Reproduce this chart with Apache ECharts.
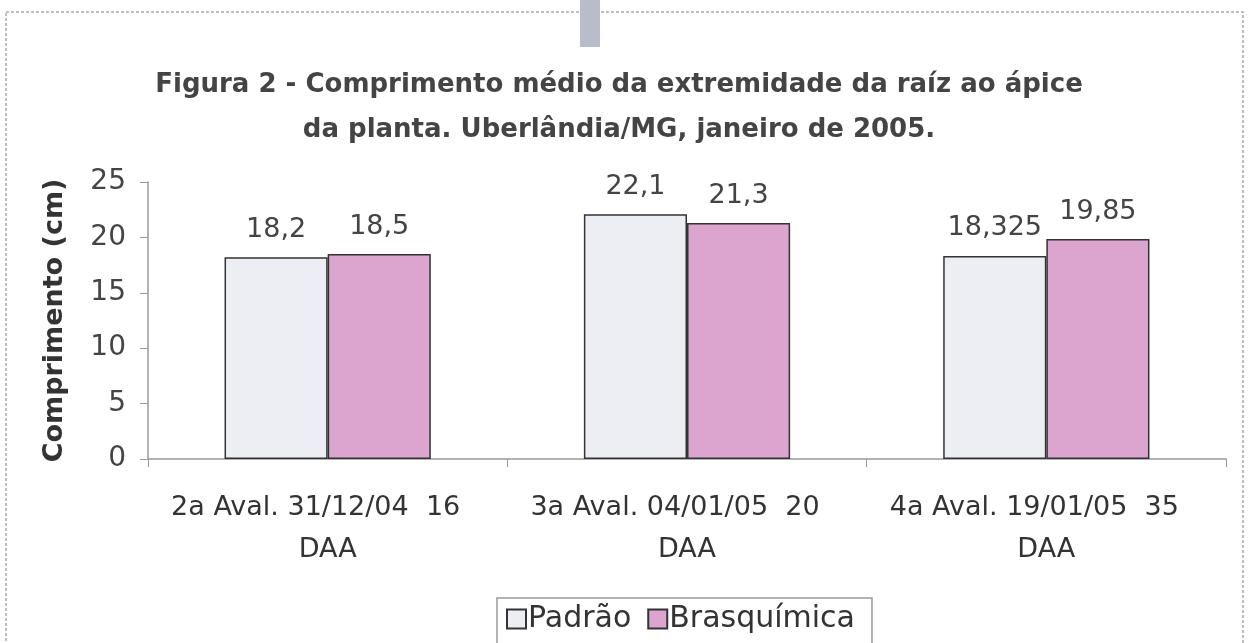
<!DOCTYPE html>
<html><head><meta charset="utf-8">
<script src="https://cdn.jsdelivr.net/npm/echarts@6/dist/echarts.min.js"></script>
<style>html,body{margin:0;padding:0;background:#fff}#c{width:1250px;height:643px}</style>
</head><body><div id="c"></div>
<script>
const categories = ['2a Aval. 31/12/04  16\nDAA', '3a Aval. 04/01/05  20\nDAA', '4a Aval. 19/01/05  35\nDAA'];
const padrao = [18.2, 22.1, 18.325];
const brasquimica = [18.5, 21.3, 19.85];
const yTicks = [0, 5, 10, 15, 20, 25];

const FONT = 'DejaVu Sans';
const chart = echarts.init(document.getElementById('c'));
const fmt = p => String(p.value).replace('.', ',');
chart.setOption({
  animation: false,
  title: {
    text: 'Figura 2 - Comprimento médio da extremidade da raíz ao ápice\nda planta. Uberlândia/MG, janeiro de 2005.',
    left: 614, textAlign: 'center', top: 58,
    textStyle: {fontFamily: FONT, fontWeight: 'bold', fontSize: 26, color: '#444', lineHeight: 45}
  },
  graphic: [
    {type: 'rect', shape: {x: 6, y: 12, width: 1237, height: 640}, style: {fill: 'none', stroke: '#aaa', lineWidth: 1.5, lineDash: [3, 2]}, silent: true},
    {type: 'rect', shape: {x: 580, y: 0, width: 20, height: 47}, style: {fill: '#b9bdcb'}, silent: true}
  ],
  legend: {
    data: ['Padrão', 'Brasquímica'],
    left: 497, top: 598,
    padding: [6, 17, 14, 9],
    itemGap: 16, itemWidth: 19, itemHeight: 19,
    borderColor: '#999', borderWidth: 1.5,
    icon: 'rect',
    textStyle: {fontFamily: FONT, fontSize: 30, color: '#333', padding: [0, 0, 0, -3]}
  },
  grid: {left: 148, right: 24, top: 182, bottom: 184},
  xAxis: {
    type: 'category', data: categories,
    axisLine: {lineStyle: {color: '#999', width: 1.5}},
    axisTick: {show: true, length: 8, lineStyle: {color: '#999'}},
    axisLabel: {
      fontFamily: FONT, fontSize: 27, color: '#333', lineHeight: 42, margin: 28, interval: 0,
      formatter: v => { const parts = v.split('\n'); return '{a|' + parts[0] + '}\n{b|' + parts[1] + '}'; },
      rich: {
        a: {fontFamily: FONT, fontSize: 27, color: '#333', lineHeight: 42, padding: [0, 24, 0, 0]},
        b: {fontFamily: FONT, fontSize: 27, color: '#333', lineHeight: 42}
      }
    }
  },
  yAxis: {
    type: 'value', min: 0, max: 25, interval: 5,
    name: 'Comprimento (cm)', nameLocation: 'middle', nameGap: 80,
    nameTextStyle: {fontFamily: FONT, fontWeight: 'bold', fontSize: 27, color: '#333'},
    axisLine: {show: true, lineStyle: {color: '#999', width: 1.5}},
    axisTick: {show: true, length: 8, lineStyle: {color: '#999'}},
    splitLine: {show: false},
    axisLabel: {fontFamily: FONT, fontSize: 28, color: '#444', margin: 22,
      formatter: v => yTicks.includes(v) ? String(v) : ''}
  },
  series: [
    {name: 'Padrão', type: 'bar', data: padrao, barGap: '0%', barCategoryGap: '42.6%',
      itemStyle: {color: '#eceef4', borderColor: '#333', borderWidth: 1.5},
      label: {show: true, position: 'top', distance: 14, formatter: fmt, fontFamily: FONT, fontSize: 27, color: '#444'}},
    {name: 'Brasquímica', type: 'bar', data: brasquimica,
      itemStyle: {color: '#dba5cf', borderColor: '#333', borderWidth: 1.5},
      label: {show: true, position: 'top', distance: 14, formatter: fmt, fontFamily: FONT, fontSize: 27, color: '#444'}}
  ]
});
</script></body></html>
